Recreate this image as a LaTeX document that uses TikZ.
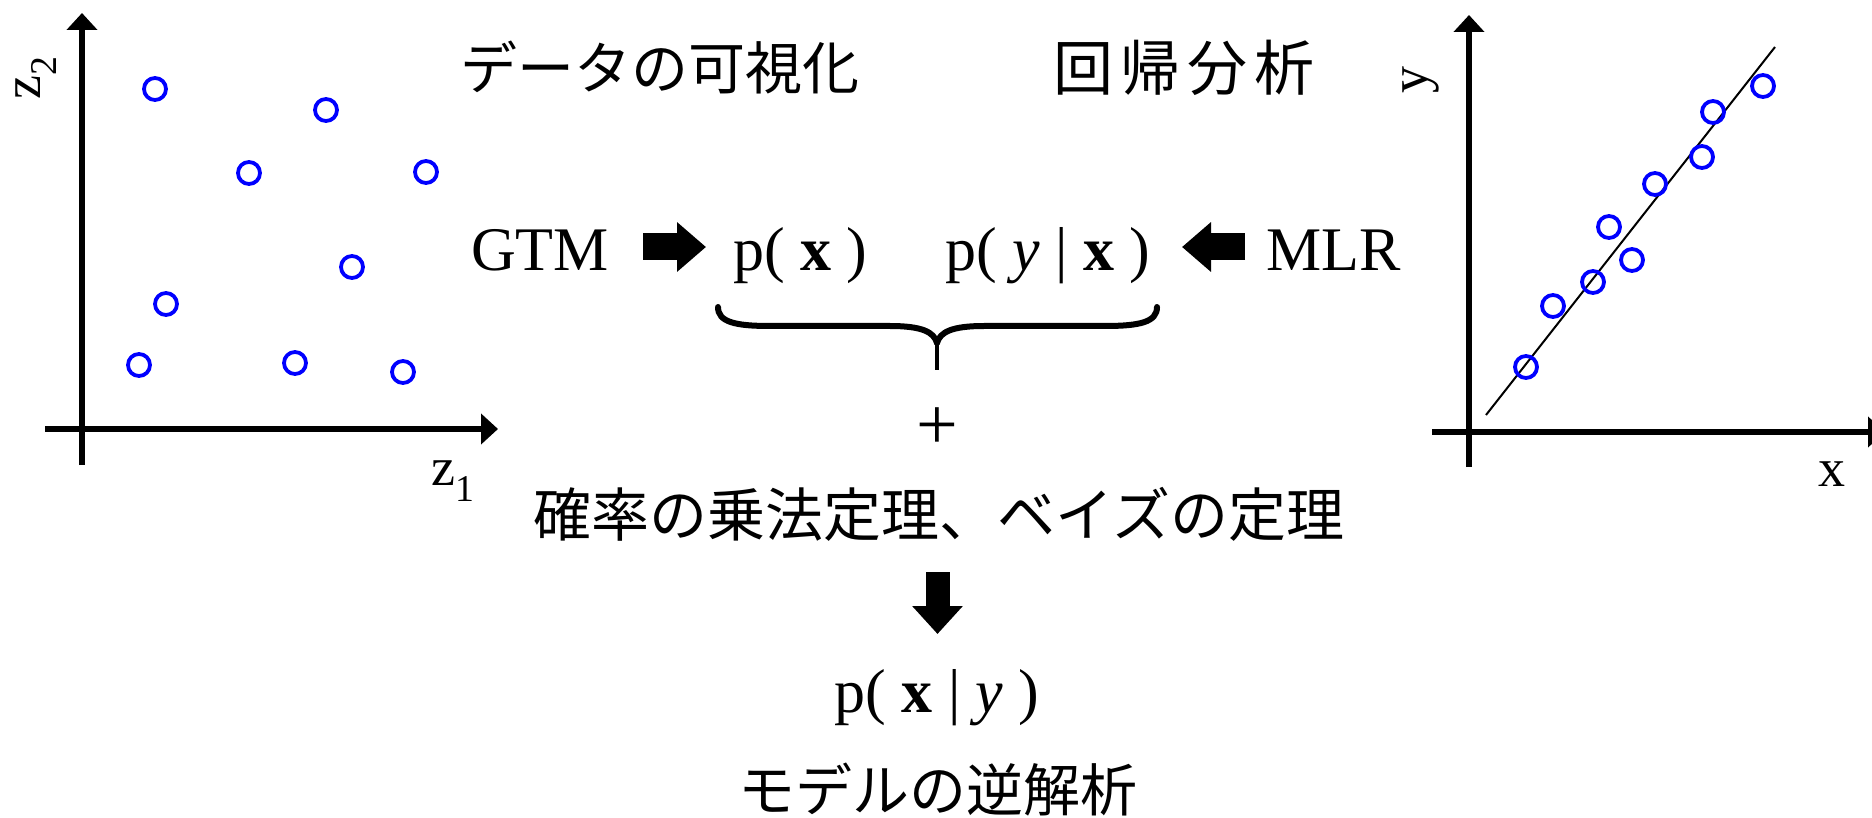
\documentclass[tikz,border=0pt]{standalone}
\usepackage{fontspec}
\setmainfont{Liberation Serif}
\newfontfamily\jp{Noto Sans CJK JP}
\usetikzlibrary{arrows.meta}
\tikzset{
  axis/.style={line width=6pt, -{Triangle[width=30pt,length=17pt]}},
  dot/.style={circle, draw=blue, line width=3.8pt, minimum size=22pt, inner sep=0pt},
  jptext/.style={font=\jp\fontsize{57}{64}\selectfont, inner sep=0pt},
  latin/.style={font=\fontsize{62}{70}\selectfont, inner sep=0pt},
  lbl/.style={font=\fontsize{54}{60}\selectfont, inner sep=0pt},
  blockr/.style={line width=27pt, -{Triangle[width=48pt,length=29pt]}},
  blockd/.style={line width=24pt, -{Triangle[width=49pt,length=28pt]}},
  bracepart/.style={line width=6pt, line cap=round},
}
\begin{document}
\begin{tikzpicture}[x=1pt,y=-1pt]
\useasboundingbox[fill=white] (0,0) rectangle (1872,818);

% ---- left plot ----
\coordinate (lo1) at (45,429);  \coordinate (lx) at (498,429);
\coordinate (lo2) at (82,465);  \coordinate (ly) at (82,13);
\draw[axis] (lo1) -- (lx);
\draw[axis] (lo2) -- (ly);
\node[lbl, rotate=90] (lz2) at (36,78) {z\textsubscript{2}};
\node[lbl] (lz1) at (453,481) {z\textsubscript{1}};
\node[dot] (l1) at (155,89) {};
\node[dot] (l2) at (326,110) {};
\node[dot] (l3) at (249,173) {};
\node[dot] (l4) at (426,172) {};
\node[dot] (l5) at (352,267) {};
\node[dot] (l6) at (166,304) {};
\node[dot] (l7) at (139,365) {};
\node[dot] (l8) at (295,363) {};
\node[dot] (l9) at (403,372) {};

% ---- right plot ----
\coordinate (ro1) at (1432,432); \coordinate (rx) at (1885,432);
\coordinate (ro2) at (1469,467); \coordinate (ry) at (1469,15);
\draw[axis] (ro1) -- (rx);
\draw[axis] (ro2) -- (ry);
\node[lbl, rotate=90] (ryl) at (1421,80) {y};
\node[lbl] (rxl) at (1832,474) {x};
\coordinate (fa) at (1486,415); \coordinate (fb) at (1775,47);
\draw[line width=2pt] (fa) -- (fb);
\node[dot] (r1) at (1526,367) {};
\node[dot] (r2) at (1553,306) {};
\node[dot] (r3) at (1593,282) {};
\node[dot] (r4) at (1609,227) {};
\node[dot] (r5) at (1632,260) {};
\node[dot] (r6) at (1655,184) {};
\node[dot] (r7) at (1702,157) {};
\node[dot] (r8) at (1713,112) {};
\node[dot] (r9) at (1763,86) {};

% ---- titles ----
\node[jptext] (vis) at (660,68) {データの可視化};
\node[jptext, font=\jp\fontsize{60}{66}\selectfont] (reg) at (1184,68) {回\hspace{7pt}帰\hspace{7pt}分\hspace{7pt}析};

% ---- middle row ----
\node[latin, anchor=base] (gtm) at (540,271) {GTM};
\node[latin, anchor=base west] (px) at (733,271) {p( \textbf{x} )};
\node[latin, anchor=base west] (pyx) at (945,271) {p( \textit{y} | \textbf{x} )};
\node[latin, anchor=base] (mlr) at (1334,271) {MLR};
\coordinate (a1s) at (643,247); \coordinate (a1e) at (706,247);
\coordinate (a2s) at (1245,247); \coordinate (a2e) at (1182,247);
\draw[blockr] (a1s) -- (a1e);
\draw[blockr] (a2s) -- (a2e);

% ---- brace ----
\draw[bracepart] (718,307) .. controls (718,322) and (735,326) .. (770,326) -- (890,326) .. controls (922,326) and (934,332) .. (937,343);
\draw[bracepart] (1157,307) .. controls (1157,322) and (1140,326) .. (1105,326) -- (984,326) .. controls (952,326) and (940,332) .. (937,343);
\coordinate (bt) at (937,338); \coordinate (bb) at (937,370);
\draw[line width=4pt] (bt) -- (bb);

\node[font=\fontsize{74}{80}\selectfont, inner sep=0pt] (plus) at (937,429) {+};

% ---- bottom ----
\node[jptext, font=\jp\fontsize{58}{64}\selectfont] (bayes) at (939,514) {確率の乗法定理、ベイズの定理};
\coordinate (ds) at (937.5,572); \coordinate (de) at (937.5,634);
\draw[blockd] (ds) -- (de);
\node[latin, anchor=base] (pxy) at (937,712) {p( \textbf{x} | \textit{y} )};
\node[jptext] (inv) at (938,790) {モデルの逆解析};
\end{tikzpicture}
\end{document}
